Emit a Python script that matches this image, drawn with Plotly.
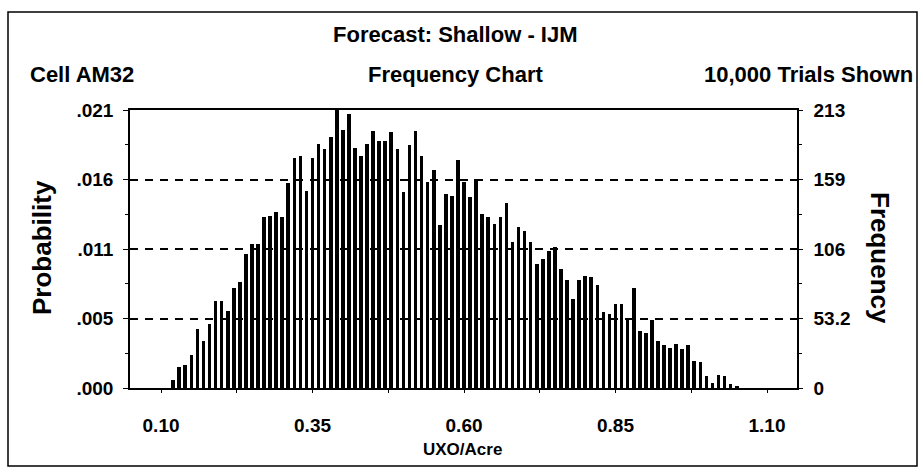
import plotly.graph_objects as go

# ---------------- data ----------------
trials = 10000
bin_start = 0.115          # lower edge of first plotted cell
bin_width = 0.01
counts = [6, 16, 18, 25, 45, 36, 49, 67, 67, 59, 77, 81, 103, 110, 110, 131, 132, 135, 131, 157,
          176, 178, 151, 176, 187, 183, 192, 213, 198, 210, 184, 178, 187, 197, 189, 189, 196, 183,
          150, 186, 197, 178, 158, 167, 125, 149, 147, 175, 158, 146, 160, 133, 131, 126, 131, 142,
          112, 123, 120, 112, 95, 99, 105, 108, 91, 83, 68, 83, 86, 85, 79, 58, 57, 64, 64, 53, 77,
          44, 42, 52, 36, 33, 31, 34, 30, 33, 21, 20, 9, 4, 10, 9, 3, 1]
bin_centers = [round(bin_start + bin_width * (i + 0.5), 3) for i in range(len(counts))]

x_tick_vals = [0.10, 0.35, 0.60, 0.85, 1.10]
x_tick_text = ["0.10", "0.35", "0.60", "0.85", "1.10"]
x_minor_vals = [0.225, 0.475, 0.725, 0.975]
freq_tick_vals = [0, 53.25, 106.5, 159.75, 213]
freq_tick_text = ["0", "53.2", "106", "159", "213"]
prob_tick_text = [".000", ".005", ".011", ".016", ".021"]
y_minor_vals = [26.625, 79.875, 133.125, 186.375]
certainty_range = [0.10, 1.10]

# ---------------- layout geometry ----------------
W, H = 923, 475
L, R, T, B = 130, 126, 110, 87
PW, PH = W - L - R, H - T - B


def px(x):
    return (x - L) / PW


def py(y):
    return (H - B - y) / PH


FONT = "Liberation Sans, Arial, Helvetica, sans-serif"

fig = go.Figure()
fig.add_trace(go.Bar(x=bin_centers, y=counts, width=bin_width * 0.6,
                     marker=dict(color="black", line=dict(width=0)),
                     showlegend=False, hoverinfo="x+y"))
fig.add_trace(go.Scatter(x=[None], y=[None], yaxis="y2", showlegend=False, hoverinfo="skip"))

axis_common = dict(showline=True, linecolor="black", linewidth=1.5,
                   tickcolor="black", tickfont=dict(family=FONT, size=19, color="black", weight="bold"))

fig.update_layout(
    width=W, height=H,
    margin=dict(l=L, r=R, t=T, b=B, pad=0),
    paper_bgcolor="white", plot_bgcolor="white",
    bargap=0,
    xaxis=dict(range=[0.0488, 1.1495], tickmode="array", tickvals=x_tick_vals, ticktext=x_tick_text,
               ticks="outside", ticklen=3, tickwidth=1, showgrid=False, zeroline=False,
               mirror=True, ticklabelstandoff=16,
               minor=dict(tickvals=x_minor_vals, ticks="outside", ticklen=3, tickcolor="black"),
               **axis_common),
    yaxis=dict(range=[0, 213], tickmode="array", tickvals=freq_tick_vals, ticktext=prob_tick_text,
               ticks="outside", ticklen=5, tickwidth=1, zeroline=False,
               showgrid=True, gridcolor="black", gridwidth=2, griddash="8px,7px",
               ticklabelstandoff=6, mirror=True,
               minor=dict(tickvals=y_minor_vals, ticks="outside", ticklen=3, tickcolor="black"),
               **axis_common),
    yaxis2=dict(range=[0, 213], overlaying="y", side="right", anchor="x",
                tickmode="array", tickvals=freq_tick_vals, ticktext=freq_tick_text,
                ticks="outside", ticklen=4, tickwidth=1, showgrid=False, zeroline=False,
                ticklabelstandoff=7,
                minor=dict(tickvals=y_minor_vals, ticks="outside", ticklen=3, tickcolor="black"),
                **axis_common),
)

# certainty-range grabbers (triangles) under the axis
fig.add_shape(type="path", xref="x", yref="y", xsizemode="pixel", ysizemode="pixel",
              xanchor=certainty_range[0], yanchor=0,
              path="M0,-2 L0,-20 L11,-11 Z", fillcolor="black", line=dict(color="black", width=1))
fig.add_shape(type="path", xref="x", yref="y", xsizemode="pixel", ysizemode="pixel",
              xanchor=certainty_range[1], yanchor=0,
              path="M0,-5 L0,-25 L-11,-15 Z", fillcolor="black", line=dict(color="black", width=1))

# outer border
fig.add_shape(type="rect", xref="paper", yref="paper", x0=px(8), x1=px(917), y0=py(466), y1=py(12),
              line=dict(color="black", width=1.5), fillcolor="rgba(0,0,0,0)", layer="below")


def label(text, x, y, size, xanchor="center", angle=0):
    fig.add_annotation(text="<b>" + text + "</b>", xref="paper", yref="paper", x=px(x), y=py(y),
                       xanchor=xanchor, yanchor="middle", showarrow=False, textangle=angle,
                       font=dict(family=FONT, size=size, color="black"))


label("Forecast: Shallow - IJM", 455, 35, 22)
label("Cell AM32", 28, 75, 22, xanchor="left")
label("Frequency Chart", 455, 75, 22)
label("10,000 Trials Shown", 915, 75, 22, xanchor="right")
label("Probability", 42, 248, 26, angle=-90)
label("Frequency", 880, 258, 26, angle=90)
label("UXO/Acre", 462, 449, 17)

fig.write_html("out.html", config={"displayModeBar": False},
               post_script="document.body.style.margin='0';document.body.style.overflow='hidden';")
